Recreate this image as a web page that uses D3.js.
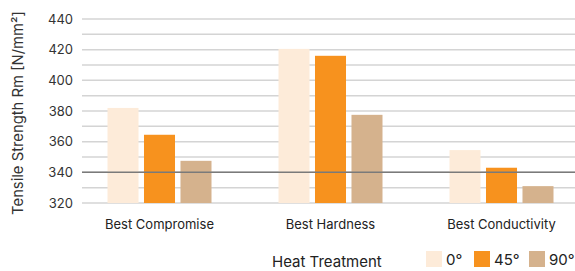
<html><head>
<script src="https://d3js.org/d3.v7.min.js" charset="utf-8"></script>
<style>
  body { margin: 0; background: white; font-family: Inter, "Noto Sans", Arial, sans-serif; }
  .grid line { stroke: #d4d4d4; stroke-width: 1.5; }
</style>
</head>
<body>
<div id="chart"></div>
<script>
// data
var categories = ["Best Compromise", "Best Hardness", "Best Conductivity"];
var series = ["0°", "45°", "90°"];
var values_0 = [382, 420.5, 354.5];
var values_45 = [364.5, 416, 343];
var values_90 = [347.5, 377.5, 331];
var yTicks = [320, 340, 360, 380, 400, 420, 440];
var colors = ["#fdebd9", "#f7921e", "#d5b28d"];
var refValue = 340;

var width = 575, height = 271;
var allValues = [values_0, values_45, values_90];

var svg = d3.select("#chart").append("svg")
  .attr("width", width)
  .attr("height", height);

var xScale = d3.scaleBand()
  .domain(categories)
  .range([74, 587])
  .padding(0);

var xInner = d3.scaleBand()
  .domain(series)
  .range([0, 104])
  .paddingInner(0.15);

var yScale = d3.scaleLinear()
  .domain([320, 440])
  .range([203, 19]);

// gridlines every 10
var grid = svg.append("g").attr("class", "grid");
grid.selectAll("line")
  .data(d3.range(320, 441, 10))
  .enter().append("line")
  .attr("x1", 82)
  .attr("x2", width)
  .attr("y1", function(d) { return yScale(d); })
  .attr("y2", function(d) { return yScale(d); });

// tick labels
svg.append("g").selectAll("text")
  .data(yTicks)
  .enter().append("text")
  .attr("x", 73)
  .attr("y", function(d) { return yScale(d) + 4.5; })
  .attr("text-anchor", "end")
  .style("font-size", "13px")
  .style("fill", "#333")
  .text(function(d) { return d; });

// bars
var groups = svg.append("g").selectAll("g")
  .data(categories)
  .enter().append("g")
  .attr("transform", function(d) {
    return "translate(" + (xScale(d) + xScale.bandwidth() / 2 - 52) + ",0)";
  });

groups.selectAll("rect")
  .data(function(d, i) {
    return series.map(function(s, j) { return {s: s, v: allValues[j][i], c: colors[j]}; });
  })
  .enter().append("rect")
  .attr("x", function(d) { return xInner(d.s); })
  .attr("width", xInner.bandwidth())
  .attr("y", function(d) { return yScale(d.v); })
  .attr("height", function(d) { return yScale(320) - yScale(d.v); })
  .style("fill", function(d) { return d.c; });

// reference line
svg.append("line")
  .attr("x1", 82)
  .attr("x2", width)
  .attr("y1", yScale(refValue))
  .attr("y2", yScale(refValue))
  .style("stroke", "#7a7a7a")
  .style("stroke-width", 1.5);

// category labels
svg.append("g").selectAll("text")
  .data(categories)
  .enter().append("text")
  .attr("x", function(d) { return xScale(d) + xScale.bandwidth() / 2; })
  .attr("y", 229)
  .attr("text-anchor", "middle")
  .style("font-size", "13px")
  .style("fill", "#222")
  .text(function(d) { return d; });

// y axis title
svg.append("text")
  .attr("transform", "translate(22.5,113) rotate(-90)")
  .attr("text-anchor", "middle")
  .style("font-size", "14.8px")
  .style("fill", "#333")
  .text("Tensile Strength Rm [N/mm²]");

// legend
svg.append("text")
  .attr("x", 272)
  .attr("y", 267)
  .style("font-size", "15px")
  .style("fill", "#222")
  .text("Heat Treatment");

var legendX = [426, 474, 529];
series.forEach(function(s, j) {
  svg.append("rect")
    .attr("x", legendX[j])
    .attr("y", 251)
    .attr("width", 16)
    .attr("height", 16)
    .style("fill", colors[j]);
  svg.append("text")
    .attr("x", legendX[j] + 20)
    .attr("y", 265)
    .style("font-size", "15px")
    .style("fill", "#222")
    .text(s);
});
</script>
</body></html>
